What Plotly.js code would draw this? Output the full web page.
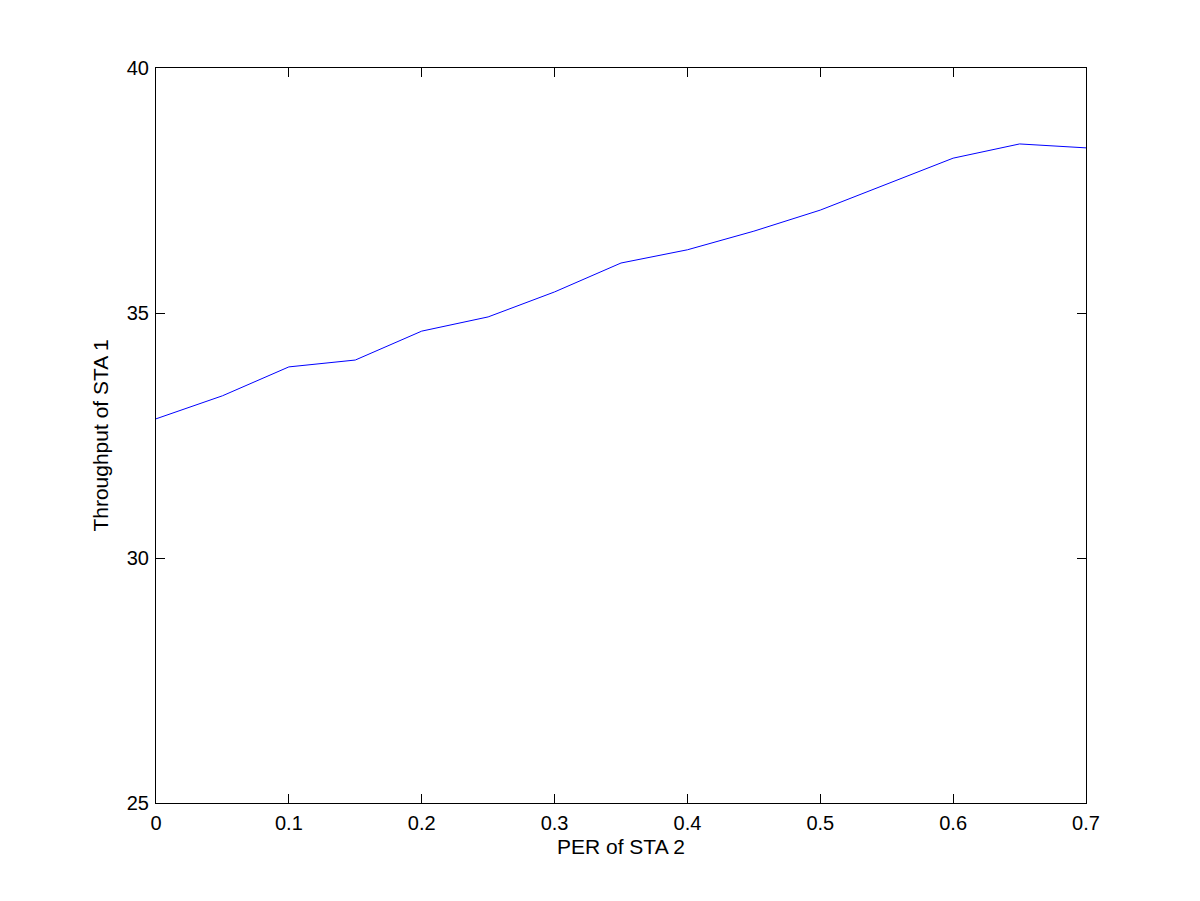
<!DOCTYPE html>
<html>
<head>
<meta charset="utf-8">
<script src="https://cdn.plot.ly/plotly-3.0.1.min.js"></script>
<style>html,body{margin:0;padding:0;background:#fff;}#chart{width:1200px;height:901px;}</style>
</head>
<body>
<div id="chart"></div>
<script>
const perSta2 = [0, 0.05, 0.1, 0.15, 0.2, 0.25, 0.3, 0.35, 0.4, 0.45, 0.5, 0.55, 0.6, 0.65, 0.7];
const throughputSta1 = [32.84, 33.31, 33.90, 34.04, 34.63, 34.92, 35.43, 36.02, 36.29, 36.67, 37.10, 37.63, 38.16, 38.45, 38.37];
const xTicks = [0, 0.1, 0.2, 0.3, 0.4, 0.5, 0.6, 0.7];
const xTickLabels = ['0', '0.1', '0.2', '0.3', '0.4', '0.5', '0.6', '0.7'];
const yTicks = [25, 30, 35, 40];
const yTickLabels = ['25', '30', '35', '40'];

const tickFont = {family: 'Liberation Sans, Arial, sans-serif', size: 20, color: '#000'};
const titleFont = {family: 'Liberation Sans, Arial, sans-serif', size: 21, color: '#000'};
const axisCommon = {
  showline: true, mirror: 'ticks', linecolor: '#000', linewidth: 1,
  ticks: 'inside', ticklen: 9, tickcolor: '#000', tickwidth: 1,
  showgrid: false, zeroline: false, tickfont: tickFont, tickmode: 'array'
};
Plotly.newPlot('chart', [{
  x: perSta2, y: throughputSta1, type: 'scatter', mode: 'lines',
  line: {color: '#0000ff', width: 1}
}], {
  width: 1200, height: 901,
  margin: {l: 156, r: 114, t: 68, b: 98},
  paper_bgcolor: '#fff', plot_bgcolor: '#fff',
  showlegend: false,
  font: tickFont,
  xaxis: Object.assign({}, axisCommon, {
    range: [0, 0.7], tickvals: xTicks, ticktext: xTickLabels,
    ticklabelstandoff: 2,
    title: {text: 'PER of STA 2', font: titleFont, standoff: 6}
  }),
  yaxis: Object.assign({}, axisCommon, {
    range: [25, 40], tickvals: yTicks, ticktext: yTickLabels,
    ticklabelstandoff: 2,
    title: {text: 'Throughput of STA 1', font: titleFont, standoff: 12}
  })
}, {staticPlot: true});
</script>
</body>
</html>
